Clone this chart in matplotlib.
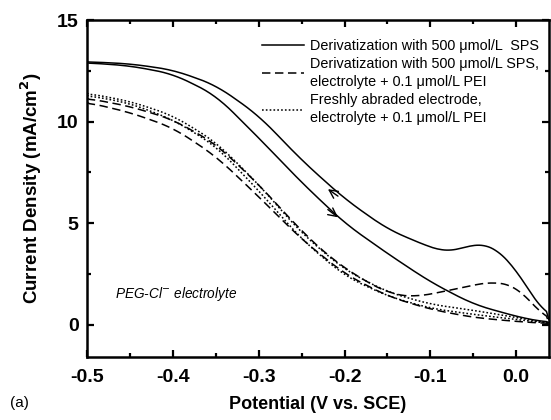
import matplotlib
matplotlib.use("Agg")
import matplotlib.pyplot as plt
from matplotlib.ticker import MultipleLocator
import numpy as np

plt.rcParams['font.family'] = ['Liberation Sans', 'DejaVu Sans']

# Solid: derivatization with SPS (forward / reverse sweeps)
sps_fwd_x = [-0.5, -0.45, -0.4, -0.35, -0.3, -0.25, -0.2, -0.15, -0.1, -0.05, 0.0, 0.02, 0.038]
sps_fwd_y = [12.9, 12.75, 12.35, 11.3, 9.2, 7.0, 5.0, 3.5, 2.1, 1.0, 0.4, 0.22, 0.1]
sps_rev_x = [-0.5, -0.45, -0.4, -0.35, -0.3, -0.25, -0.2, -0.15, -0.1, -0.08, -0.065, -0.047, -0.03, -0.012, 0.0, 0.019, 0.038]
sps_rev_y = [12.95, 12.85, 12.55, 11.8, 10.3, 8.1, 6.2, 4.7, 3.8, 3.55, 3.7, 4.05, 3.9, 3.37, 2.7, 1.4, 0.25]

# Dashed: SPS + PEI in electrolyte
pei_fwd_x = [-0.5, -0.45, -0.4, -0.35, -0.3, -0.25, -0.2, -0.15, -0.1, -0.05, 0.0, 0.038]
pei_fwd_y = [10.95, 10.45, 9.7, 8.3, 6.3, 4.2, 2.5, 1.4, 0.75, 0.35, 0.15, 0.05]
pei_rev_x = [-0.5, -0.45, -0.4, -0.35, -0.3, -0.25, -0.214, -0.174, -0.144, -0.12, -0.087, -0.05, -0.023, 0.0, 0.015, 0.027, 0.038]
pei_rev_y = [11.15, 10.75, 10.1, 8.9, 6.9, 4.6, 3.2, 2.08, 1.48, 1.35, 1.6, 1.95, 2.13, 1.88, 1.3, 0.59, 0.1]

# Dotted: freshly abraded electrode + PEI
fresh_a_x = [-0.5, -0.45, -0.4, -0.35, -0.3, -0.25, -0.2, -0.15, -0.1, -0.05, 0.0, 0.038]
fresh_a_y = [11.4, 11.0, 10.3, 9.0, 6.9, 4.5, 2.7, 1.6, 1.0, 0.7, 0.35, 0.05]
fresh_b_x = [-0.5, -0.45, -0.4, -0.35, -0.3, -0.25, -0.2, -0.15, -0.1, -0.05, 0.0, 0.038]
fresh_b_y = [11.3, 10.9, 10.1, 8.8, 6.6, 4.2, 2.4, 1.4, 0.8, 0.5, 0.25, 0.05]

labels = ["Derivatization with 500 \u03bcmol/L  SPS",
          "Derivatization with 500 \u03bcmol/L SPS,\nelectrolyte + 0.1 \u03bcmol/L PEI",
          "Freshly abraded electrode,\nelectrolyte + 0.1 \u03bcmol/L PEI"]

def smooth(x, y, n=200):
    x = np.asarray(x); y = np.asarray(y)
    t = np.linspace(x[0], x[-1], n)
    yi = np.interp(t, x, y)
    k = 7
    pad = np.pad(yi, (k, k), mode='edge')
    ys = np.convolve(pad, np.ones(2 * k + 1) / (2 * k + 1), mode='same')[k:-k]
    ys[0] = y[0]; ys[-1] = y[-1]
    return t, ys

fig = plt.figure(figsize=(5.51, 4.2), dpi=100)
ax = fig.add_axes([0.158, 0.15, 0.838, 0.802])

lw = 1.1
dash = (0, (5.5, 3))
dot = (0, (1.1, 1.4))
ax.plot(*smooth(sps_fwd_x, sps_fwd_y), color='black', lw=lw, ls='-', label=labels[0])
ax.plot(*smooth(sps_rev_x, sps_rev_y), color='black', lw=lw, ls='-')
ax.plot(*smooth(pei_fwd_x, pei_fwd_y), color='black', lw=lw, ls=dash, label=labels[1])
ax.plot(*smooth(pei_rev_x, pei_rev_y), color='black', lw=lw, ls=dash)
ax.plot(*smooth(fresh_a_x, fresh_a_y), color='black', lw=lw, ls=dot, label=labels[2])
ax.plot(*smooth(fresh_b_x, fresh_b_y), color='black', lw=lw, ls=dot)

# direction arrows (open chevrons)
ax.annotate('', xy=(-0.222, 6.75), xytext=(-0.205, 6.25),
            arrowprops=dict(arrowstyle='->', color='black', lw=1.0, mutation_scale=15))
ax.annotate('', xy=(-0.205, 5.2), xytext=(-0.222, 5.75),
            arrowprops=dict(arrowstyle='->', color='black', lw=1.0, mutation_scale=15))

ax.set_xlim(-0.5, 0.038)
ax.set_ylim(-1.6, 15)
ax.xaxis.set_minor_locator(MultipleLocator(0.05))
ax.yaxis.set_minor_locator(MultipleLocator(2.5))
ax.set_xticks([-0.5, -0.4, -0.3, -0.2, -0.1, 0.0])
ax.set_xticklabels(['-0.5', '-0.4', '-0.3', '-0.2', '-0.1', '0.0'])
ax.set_yticks([0, 5, 10, 15])
ax.set_yticklabels(['0', '5', '10', '15'])
ax.tick_params(which='both', direction='in', top=True, right=True, width=1.6)
ax.tick_params(which='major', length=5, labelsize=14)
ax.tick_params(axis='x', which='major', pad=9)
ax.tick_params(axis='y', which='major', pad=6)
ax.tick_params(which='minor', length=3)
for lab in ax.get_xticklabels() + ax.get_yticklabels():
    lab.set_fontweight('bold')
for s in ax.spines.values():
    s.set_linewidth(1.8)

ax.set_xlabel('Potential (V vs. SCE)', fontsize=13, fontweight='bold', labelpad=7)
ax.set_ylabel('Current Density (mA/cm$^\\mathbf{2}$)', fontsize=13.5, fontweight='bold', labelpad=9)

ax.text(-0.468, 1.3, 'PEG-Cl$^{-}$ electrolyte', fontsize=9.8, style='italic')
fig.text(0.018, 0.03, '(a)', fontsize=11)

leg = ax.legend(loc='upper right', bbox_to_anchor=(0.978, 0.945), frameon=False,
                fontsize=10.4, handlelength=2.9, handletextpad=0.4,
                labelspacing=0.3, borderaxespad=0.0, borderpad=0.0)
for t in leg.get_texts():
    t.set_linespacing(1.35)

fig.savefig('out.png', dpi=100)
